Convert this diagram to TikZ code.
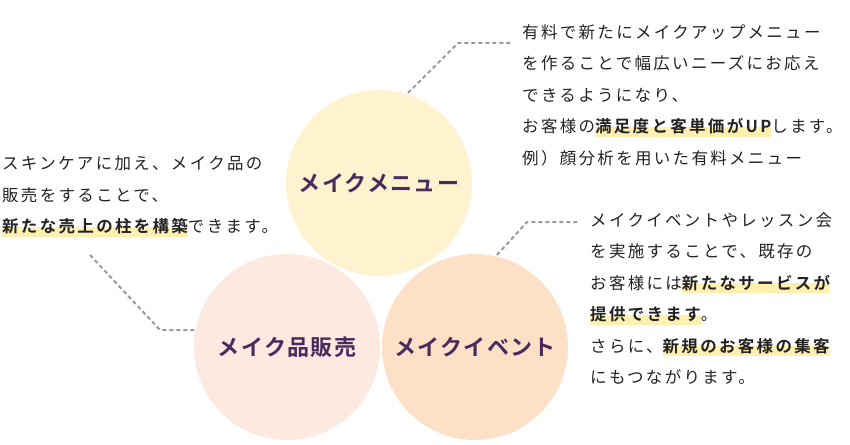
\documentclass[tikz,border=0pt]{standalone}
\usepackage{fontspec}
\setmainfont{Noto Sans CJK JP}[LetterSpace=14,BoldFont={Noto Sans CJK JP Bold}]
\newfontfamily\ttlfont{Noto Sans CJK JP}[LetterSpace=6,BoldFont={Noto Sans CJK JP Bold}]
\definecolor{cTop}{HTML}{FFF3CF}
\definecolor{cLeft}{HTML}{FCE9E0}
\definecolor{cRight}{HTML}{FDE1C6}
\definecolor{ttl}{HTML}{4A2B5C}
\definecolor{txt}{HTML}{222222}
\definecolor{hly}{HTML}{FFF0B0}
\definecolor{dash}{HTML}{9A9A9A}
\newcommand\hlx[1]{\setbox0\hbox{\bfseries #1}\rlap{\color{hly}\rule[-0.25em]{\wd0}{0.6em}}\box0}
\begin{document}
\begin{tikzpicture}[x=1pt,y=-1pt,
  circ/.style={circle,minimum size=186pt,inner sep=0pt},
  title/.style={font=\ttlfont\fontsize{22}{26}\selectfont\bfseries,text=ttl},
  body/.style={anchor=north west,align=left,inner sep=0pt,text=txt,font=\fontsize{16.5}{31.5}\selectfont},
  conn/.style={draw=dash,line width=2pt,dash pattern=on 4pt off 3pt}]
\useasboundingbox (0,0) rectangle (850,444);
\node[circ,fill=cTop] (top) at (379,183) {};
\node[circ,fill=cLeft] (left) at (287,347) {};
\node[circ,fill=cRight] (right) at (475,347) {};
\node[title] (tt) at (top) {メイクメニュー};
\node[title] (tl) at (left) {メイク品販売};
\node[title] (tr) at (right) {メイクイベント};
\node[body] (bt) at (522,24) {有料で新たにメイクアップメニュー\\を作ることで幅広いニーズにお応え\\できるようになり、\\お客様の\hlx{満足度と客単価がUP}します。\\例）顔分析を用いた有料メニュー};
\node[body] (bl) at (2,156) {スキンケアに加え、メイク品の\\販売をすることで、\\\hlx{新たな売上の柱を構築}できます。};
\node[body] (br) at (590,212) {メイクイベントやレッスン会\\を実施することで、既存の\\お客様には\hlx{新たなサービスが}\\\hlx{提供できます}。\\さらに、\hlx{新規のお客様の集客}\\にもつながります。};
\coordinate (a1) at (408,93); \coordinate (a2) at (458,43); \coordinate (a3) at (510,43);
\coordinate (b1) at (90,255); \coordinate (b2) at (160,330); \coordinate (b3) at (195,330);
\coordinate (c1) at (497,255); \coordinate (c2) at (527,222); \coordinate (c3) at (580,222);
\draw[conn] (a1) -- (a2) -- (a3);
\draw[conn] (b1) -- (b2) -- (b3);
\draw[conn] (c1) -- (c2) -- (c3);
\end{tikzpicture}
\end{document}
